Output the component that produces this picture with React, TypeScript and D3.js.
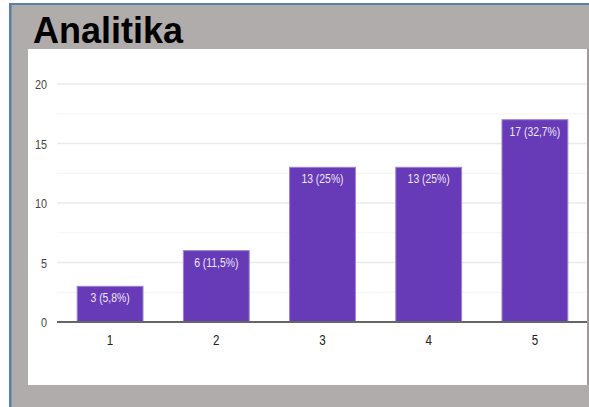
import React from "react";
import * as d3 from "d3";

const categories = ["1", "2", "3", "4", "5"];
const counts = [3, 6, 13, 13, 17];
const barLabels = ["3 (5,8%)", "6 (11,5%)", "13 (25%)", "13 (25%)", "17 (32,7%)"];
const yTicks = [0, 5, 10, 15, 20];
const minorTicks = [2.5, 7.5, 12.5, 17.5];
const title = "Analitika";

export default function App() {
  const W = 589;
  const H = 407;
  const x = d3.scaleBand().domain(categories).range([57, 588]).paddingInner(0.38).paddingOuter(0.19);
  const y = d3.scaleLinear().domain([0, 20]).range([322, 84]);
  const font = "'Liberation Sans', Arial, sans-serif";
  const sx = 0.8;

  return (
    <svg width={W} height={H} style={{ position: "fixed", left: 0, top: 0 }}>
      <rect x={0} y={0} width={W} height={H} fill="#ffffff" />
      <rect x={10} y={4} width={W - 10} height={H - 4} fill="#B0ACAB" />
      <rect x={9} y={3} width={W - 9} height={2} fill="#5B7FA6" />
      <rect x={9} y={3} width={2.5} height={H - 3} fill="#5B7FA6" />
      <text x={33} y={43} fontFamily="'Liberation Sans', Arial, sans-serif" fontWeight="bold" fontSize={36} fill="#000">
        {title}
      </text>
      <rect x={28} y={49} width={559} height={336} fill="#ffffff" />
      {minorTicks.map((t) => (
        <line key={"m" + t} x1={57} x2={587} y1={y(t)} y2={y(t)} stroke="#f4f4f4" strokeWidth={1} />
      ))}
      {yTicks.filter((t) => t > 0).map((t) => (
        <line key={"g" + t} x1={57} x2={587} y1={y(t)} y2={y(t)} stroke="#ebebeb" strokeWidth={1.5} />
      ))}
      {yTicks.map((t) => (
        <text
          key={"yt" + t}
          transform={`translate(47,${y(t) + 5}) scale(${sx},1)`}
          textAnchor="end"
          fontFamily={font}
          fontSize={13.5}
          fill="#444"
        >
          {t}
        </text>
      ))}
      {categories.map((c, i) => (
        <g key={c}>
          <rect
            x={x(c)!}
            y={y(counts[i])}
            width={x.bandwidth()}
            height={y(0) - y(counts[i])}
            fill="#673AB7"
            stroke="#9C84D4"
            strokeWidth={1}
          />
          <text
            transform={`translate(${x(c)! + x.bandwidth() / 2},${y(counts[i]) + 16}) scale(${sx},1)`}
            textAnchor="middle"
            fontFamily={font}
            fontSize={13}
            fill="#EDE7F6"
          >
            {barLabels[i]}
          </text>
          <text
            transform={`translate(${x(c)! + x.bandwidth() / 2},345) scale(${sx},1)`}
            textAnchor="middle"
            fontFamily={font}
            fontSize={14.5}
            fill="#222"
          >
            {c}
          </text>
        </g>
      ))}
      <line x1={57} x2={587} y1={y(0)} y2={y(0)} stroke="#666" strokeWidth={2} />
      <rect x={587} y={49} width={2} height={336} fill="#9E9A99" />
    </svg>
  );
}
